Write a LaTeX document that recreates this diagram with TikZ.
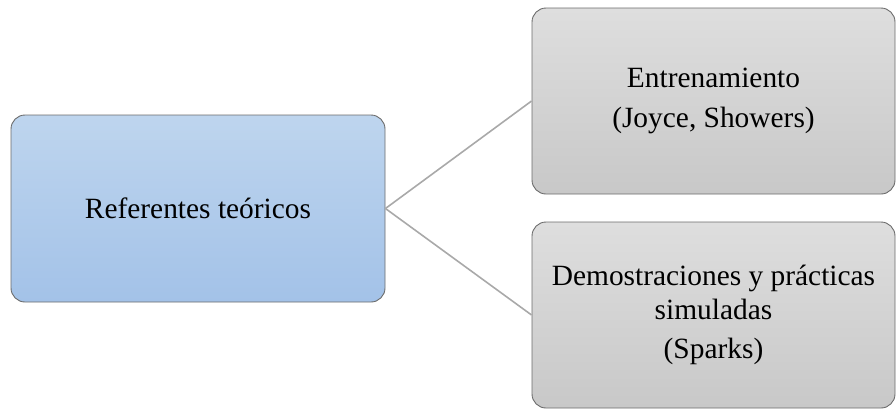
\documentclass[tikz,border=0pt]{standalone}
\usepackage{fontspec}
\setmainfont{Liberation Serif}
\definecolor{blueTop}{HTML}{BED5EE}
\definecolor{blueBot}{HTML}{A3C2E8}
\definecolor{grayTop}{HTML}{DEDEDE}
\definecolor{grayBot}{HTML}{C8C8C8}
\definecolor{boxborder}{HTML}{6B6B6B}
\definecolor{linkgray}{HTML}{A9A9A9}
\begin{document}
\begin{tikzpicture}[x=1pt,y=1pt,
  box/.style={rectangle, rounded corners=14pt, draw=boxborder, line width=0.9pt,
    align=center, inner sep=0pt, text=black,
    font=\fontsize{29.4}{34}\selectfont},
  bluebox/.style={box, top color=blueTop, bottom color=blueBot},
  graybox/.style={box, top color=grayTop, bottom color=grayBot},
  link/.style={draw=linkgray, line width=1.6pt}]
\useasboundingbox (0,0) rectangle (896,-408);
\node[bluebox, minimum width=374pt, minimum height=187pt] (ref) at (198,-208.5) {Referentes teóricos};
\node[graybox, minimum width=363pt, minimum height=186pt] (ent) at (713.5,-101) {\raisebox{0pt}[0pt][0pt]{}Entrenamiento\\[6pt](Joyce, Showers)};
\node[graybox, minimum width=363pt, minimum height=186pt] (dem) at (713.5,-315) {Demostraciones y prácticas\\simuladas\\[5pt](Sparks)};
\draw[link] (ref.east) -- (ent.west);
\draw[link] (ref.east) -- (dem.west);
\end{tikzpicture}
\end{document}
